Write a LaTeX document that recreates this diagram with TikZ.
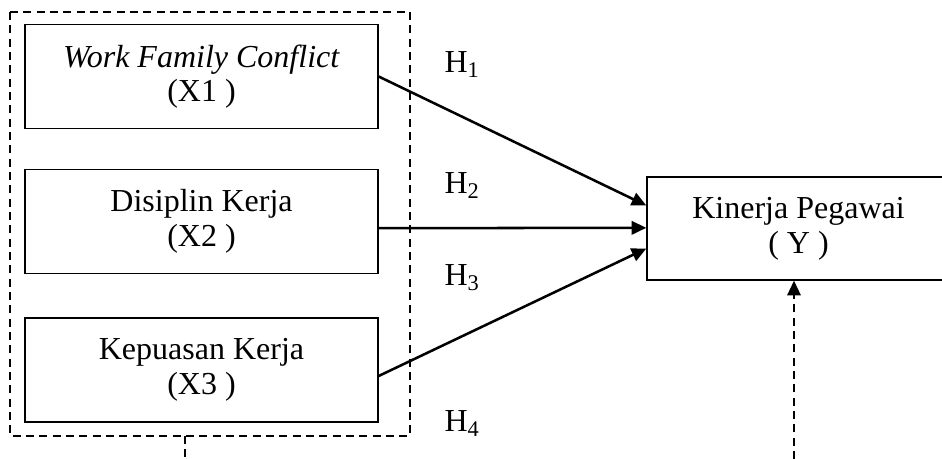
\documentclass[tikz,border=0pt]{standalone}
\usepackage{fontspec}
\setmainfont{Liberation Serif}
\usetikzlibrary{arrows.meta, positioning}

\tikzset{
  varbox/.style={draw, line width=1pt, minimum width=264.75pt, minimum height=78pt, inner sep=0pt, align=center},
  hlabel/.style={inner sep=0pt},
  hyparrow/.style={line width=1.9pt, -{Triangle[length=11pt,width=10pt]}},
  grpline/.style={dash pattern=on 6pt off 4pt, line width=1.4pt}
}

\begin{document}
\begin{tikzpicture}[x=0.75pt, y=-0.75pt, font=\fontsize{24}{26}\selectfont]
\clip (0,0) rectangle (942,459);
\useasboundingbox (0,0) rectangle (942,459);

% dashed group around the three variables
\draw[grpline] (10,12) rectangle (410,436);
\coordinate (gb) at (185,436);
\coordinate (gs) at (185,459);
\draw[grpline] (gb) -- (gs);

% independent variables
\node[varbox] (x1) at (201.5,76.5) {\textit{Work Family Conflict}\\(X1 )};
\node[varbox] (x2) at (201.5,221.5) {Disiplin Kerja\\(X2 )};
\node[varbox] (x3) at (201.5,370) {Kepuasan Kerja\\(X3 )};

% dependent variable
\node[varbox, minimum width=227.25pt, minimum height=77.25pt] (y) at (798.5,228.5) {Kinerja Pegawai\\( Y )};

% hypothesis labels
\node[hlabel] (h1) at (462,65) {H\textsubscript{1}};
\node[hlabel] (h2) at (462,186) {H\textsubscript{2}};
\node[hlabel] (h3) at (462,278) {H\textsubscript{3}};
\node[hlabel] (h4) at (462,424) {H\textsubscript{4}};

% paths
\draw[hyparrow] (x1.east) -- ([yshift=17.25pt]y.west);
\draw[hyparrow] ([yshift=-5pt]x2.east) -- ([yshift=0.5pt]y.west);
\draw[hyparrow] ([yshift=-4.5pt]x3.east) -- ([yshift=-15pt]y.west);
\coordinate (ys) at (794,459);
\draw[grpline, -{Triangle[length=11pt,width=10pt]}] (ys) -- (y.south -| ys);
\end{tikzpicture}
\end{document}
